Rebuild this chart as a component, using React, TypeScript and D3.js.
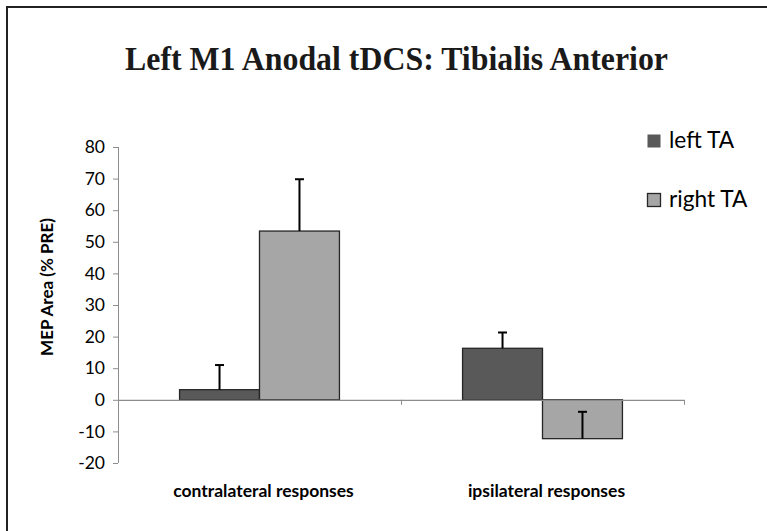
import React from "react";
import * as d3 from "d3";

const categories = ["contralateral responses", "ipsilateral responses"];
const seriesNames = ["left TA", "right TA"];
const leftTA = [3.2, 16.3];
const rightTA = [53.4, -12.3];
const leftTAErr = [7.8, 5.0];
const rightTAErr = [16.4, 8.5];
const yTicks = [-20, -10, 0, 10, 20, 30, 40, 50, 60, 70, 80];
const seriesColors = ["#595959", "#a6a6a6"];

const W = 767;
const H = 531;
const plotLeft = 118;
const plotRight = 684;
const calibri = "Lato, 'Open Sans', sans-serif";

export default function App() {
  const y = d3.scaleLinear().domain([-20, 80]).range([463, 147]);
  const x0 = d3.scaleBand<string>().domain(categories).range([plotLeft, plotRight]).paddingInner(0).paddingOuter(0);
  const x1 = d3
    .scaleBand<string>()
    .domain(seriesNames)
    .range([0, x0.bandwidth()])
    .paddingInner(0)
    .paddingOuter(0.77);
  const values = [leftTA, rightTA];
  const errs = [leftTAErr, rightTAErr];
  const y0 = y(0);

  return (
    <svg width={W} height={H} style={{ position: "absolute", left: 0, top: 0, background: "#fff" }}>
      <rect x={0} y={0} width={W} height={H} fill="#fff" />
      {/* frame */}
      <path d={`M7,${H + 2} L7,7 L${W + 2},7`} fill="none" stroke="#222" strokeWidth={2} />
      {/* title */}
      <text
        x={396.5}
        y={70}
        textAnchor="middle"
        fontFamily="'Liberation Serif', 'Times New Roman', serif"
        fontWeight="bold"
        fontSize={34}
        fill="#1a1a1a"
        textLength={543}
        lengthAdjust="spacingAndGlyphs"
      >
        Left M1 Anodal tDCS: Tibialis Anterior
      </text>

      {/* y axis */}
      <line x1={plotLeft + 0.5} x2={plotLeft + 0.5} y1={y(80)} y2={y(-20)} stroke="#8c8c8c" strokeWidth={1} />
      {yTicks.map((t) => (
        <g key={t}>
          <line x1={plotLeft - 5} x2={plotLeft} y1={y(t) + 0.5} y2={y(t) + 0.5} stroke="#8c8c8c" />
          <text
            x={105}
            y={y(t)}
            dy="0.35em"
            textAnchor="end"
            fontFamily={calibri}
            fontSize={17.5}
            fill="#000"
          >
            {t}
          </text>
        </g>
      ))}

      {/* y label */}
      <text
        transform={`translate(53,${287}) rotate(-90)`}
        textAnchor="middle"
        fontFamily={calibri}
        fontWeight="bold"
        fontSize={17}
        fill="#000"
      >
        MEP Area (% PRE)
      </text>

      {/* bars */}
      {categories.map((c, ci) =>
        seriesNames.map((s, si) => {
          const v = values[si][ci];
          const bx = (x0(c) as number) + (x1(s) as number);
          const bw = x1.bandwidth();
          const top = Math.min(y(v), y0);
          const h = Math.abs(y(v) - y0);
          return (
            <rect
              key={c + s}
              x={bx}
              y={top}
              width={bw}
              height={h}
              fill={seriesColors[si]}
              stroke="#262626"
              strokeWidth={1.3}
            />
          );
        })
      )}

      {/* x axis */}
      <line x1={plotLeft} x2={plotRight} y1={y0 + 0.5} y2={y0 + 0.5} stroke="#8c8c8c" strokeWidth={1.2} />
      {[plotLeft, (x0(categories[1]) as number), plotRight].map((xx, i) => (
        <line key={i} x1={xx + 0.5} x2={xx + 0.5} y1={y0} y2={y0 + 5} stroke="#8c8c8c" />
      ))}

      {/* error bars */}
      {categories.map((c, ci) =>
        seriesNames.map((s, si) => {
          const v = values[si][ci];
          const e = errs[si][ci];
          const cx = (x0(c) as number) + (x1(s) as number) + x1.bandwidth() / 2;
          return (
            <g key={"e" + c + s}>
              <line x1={cx} x2={cx} y1={y(v)} y2={y(v + e)} stroke="#000" strokeWidth={2} />
              <line x1={cx - 4.5} x2={cx + 4.5} y1={y(v + e)} y2={y(v + e)} stroke="#000" strokeWidth={2} />
            </g>
          );
        })
      )}

      {/* category labels */}
      {categories.map((c) => (
        <text
          key={c}
          x={(x0(c) as number) + x0.bandwidth() / 2 + 4}
          y={497}
          textAnchor="middle"
          fontFamily={calibri}
          fontWeight="bold"
          fontSize={17.5}
          fill="#000"
        >
          {c}
        </text>
      ))}

      {/* legend */}
      {seriesNames.map((s, i) => (
        <g key={s} transform={`translate(647,${134 + i * 59})`}>
          <rect x={0.5} y={0.5} width={13} height={13} fill={seriesColors[i]} stroke={i === 1 ? "#262626" : "none"} strokeWidth={1.3} />
          <text x={22} y={14} fontFamily={calibri} fontSize={22.7} fill="#000">
            {s}
          </text>
        </g>
      ))}
    </svg>
  );
}
